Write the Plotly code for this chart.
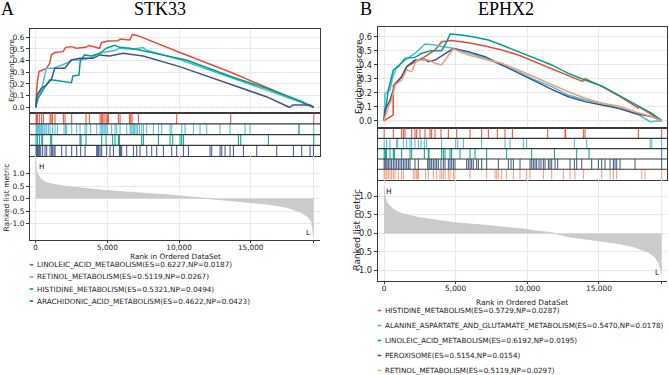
import plotly.graph_objects as go

W, H = 669, 375
FONT = "DejaVu Sans"
SERIF = "Liberation Serif"

# ---------------- data: panel A (STK33) ----------------
A_TITLE = "STK33"
A_NAMES = ["LINOLEIC_ACID_METABOLISM", "RETINOL_METABOLISM",
           "HISTIDINE_METABOLISM", "ARACHIDONIC_ACID_METABOLISM"]
A_ES = [0.6227, 0.5119, 0.5321, 0.4622]
A_NP = [0.0187, 0.0267, 0.0494, 0.0423]
A_COLORS = ["#E64B35", "#4DBBD5", "#00A087", "#3C5488"]

A_red_rank = [0, 100, 230, 465, 745, 975, 1095, 1325, 1905, 2090, 2490, 2840, 3490, 3720,
              4465, 4580, 5045, 5745, 5905, 6560, 6745, 7140, 9839, 13607, 16090, 17950, 19400]
A_red_es = [0, 0.206, 0.306, 0.32, 0.334, 0.377, 0.449, 0.469, 0.477, 0.514, 0.52, 0.506, 0.514, 0.529,
            0.506, 0.554, 0.569, 0.571, 0.586, 0.577, 0.6227, 0.614, 0.48, 0.30, 0.175, 0.075, 0]
A_blue_rank = [0, 95, 395, 745, 1210, 1560, 2140, 2490, 3185, 3770, 4465, 4930, 5510, 5860,
               6790, 7490, 7720, 10044, 13764, 16090, 17950, 18330, 18400, 19400]
A_blue_es = [0, 0.09, 0.149, 0.334, 0.334, 0.349, 0.377, 0.406, 0.406, 0.42, 0.463, 0.477, 0.486, 0.506,
             0.497, 0.5119, 0.49, 0.41, 0.249, 0.149, 0.063, 0.05, 0.06, 0]
A_green_rank = [0, 165, 510, 975, 1210, 2490, 2600, 3020, 3115, 3420, 3880, 4465, 4930, 5510,
                5860, 6560, 7255, 8420, 9580, 10510, 13765, 16090, 17950, 19400]
A_green_es = [0, 0.077, 0.149, 0.234, 0.234, 0.211, 0.269, 0.277, 0.406, 0.449, 0.44, 0.463, 0.506, 0.5321,
              0.514, 0.506, 0.491, 0.463, 0.429, 0.406, 0.257, 0.163, 0.077, 0]
A_navy_rank = [0, 95, 395, 745, 1100, 1325, 2025, 2490, 3070, 4000, 4465, 5160, 6090, 6790, 7490,
               10045, 13765, 16090, 17700, 17950, 19150, 19400]
A_navy_es = [0, 0.106, 0.163, 0.191, 0.24, 0.334, 0.334, 0.406, 0.42, 0.42, 0.449, 0.44, 0.4622, 0.449, 0.44,
             0.349, 0.191, 0.091, 0.0, 0.02, 0.02, 0]

A_red_hits = [23, 70, 116, 256, 419, 535, 1000, 1070, 1163, 1349, 1931, 2047, 2512, 3512, 3745, 4489,
              4582, 4675, 4768, 4908, 5001, 5071, 5768, 5885, 6536, 6629, 6722, 7164, 9839, 13607, 19400]
A_blue_hits = [23, 70, 116, 186, 256, 349, 419, 488, 582, 651, 768, 884, 1000, 1186, 1349, 1512, 1977,
               2070, 2163, 2512, 2861, 3094, 3442, 3559, 3838, 4257, 4489, 4605, 4675, 4768, 4838, 4908,
               5001, 5303, 5536, 5652, 5885, 6350, 6583, 6652, 6722, 6815, 6908, 7001, 7094, 7234, 7397,
               7513, 7746, 8211, 8560, 8792, 9374, 9490, 10188, 10420, 11002, 11467, 11932, 12863, 13561,
               14608, 14957, 18329, 18399, 19400]
A_green_hits = [23, 116, 256, 419, 488, 1047, 1116, 3094, 3163, 3512, 4605, 4908, 5373, 5536, 5768, 5838,
                7397, 7513, 8560, 9374, 9560, 10072, 10188, 10304, 14142, 14305, 16235, 19400]
A_navy_hits = [23, 70, 116, 186, 256, 349, 488, 651, 768, 1000, 1116, 1186, 1279, 1349, 1814, 2117, 2512,
               2861, 3140, 3442, 4257, 4326, 4396, 4489, 4605, 4954, 5187, 5420, 5838, 5885, 5931, 6001,
               6350, 6815, 7048, 7280, 7746, 8094, 8443, 8909, 9490, 9839, 10304, 10653, 12165, 12281,
               12863, 12979, 13212, 13561, 13794, 14491, 15422, 16817, 17980, 18562, 19143, 19376]

A_metric_rank = [0, 60, 185, 395, 745, 1210, 2140, 3300, 4930, 6790, 9120, 11440, 11900, 13765, 16090,
                 17490, 18420, 19000, 19260, 19375, 19400]
A_metric_val = [1.53, 1.09, 0.92, 0.76, 0.64, 0.57, 0.48, 0.41, 0.32, 0.24, 0.15, 0.03, 0.0, -0.095, -0.22,
                -0.35, -0.53, -0.73, -0.93, -1.3, -1.5]

# ---------------- data: panel B (EPHX2) ----------------
B_TITLE = "EPHX2"
B_NAMES = ["HISTIDINE_METABOLISM", "ALANINE_ASPARTATE_AND_GLUTAMATE_METABOLISM",
           "LINOLEIC_ACID_METABOLISM", "PEROXISOME", "RETINOL_METABOLISM"]
B_ES = [0.5729, 0.5470, 0.6192, 0.5154, 0.5119]
B_NP = [0.0287, 0.0178, 0.0195, 0.0154, 0.0297]
B_COLORS = ["#E64B35", "#4DBBD5", "#00A087", "#3C5488", "#F39B7F"]

B_red_rank = [0, 640, 651, 1230, 1580, 2165, 2860, 3560, 4025, 4720, 5885, 7050, 8210, 9375, 10540,
              11700, 12860, 13850, 14030, 15190, 16350, 17740, 17760, 19375]
B_red_es = [0, 0.04, 0.25, 0.314, 0.386, 0.421, 0.457, 0.505, 0.564, 0.5729, 0.557, 0.533, 0.505, 0.469, 0.421,
            0.374, 0.326, 0.28, 0.30, 0.245, 0.18, 0.09, 0.1, 0]
B_blue_rank = [0, 70, 420, 580, 885, 1465, 2165, 2860, 3560, 4025, 4840, 5885, 7050, 8210, 9375, 10540,
               11700, 12860, 14025, 15190, 16350, 17515, 18560, 19375]
B_blue_es = [0, 0.195, 0.219, 0.30, 0.386, 0.433, 0.481, 0.547, 0.54, 0.529, 0.517, 0.481, 0.445, 0.398, 0.35,
             0.29, 0.243, 0.183, 0.148, 0.124, 0.088, 0.057, -0.007, 0]
B_green_rank = [0, 300, 650, 1000, 1465, 2165, 2630, 3325, 4025, 4375, 4605, 5420, 6350, 7280, 8210, 9375,
                10540, 11700, 12860, 14025, 15190, 16350, 17515, 18680, 19375]
B_green_es = [0, 0.219, 0.362, 0.386, 0.445, 0.452, 0.481, 0.5, 0.5, 0.564, 0.6192, 0.612, 0.595, 0.576, 0.54,
              0.493, 0.445, 0.398, 0.338, 0.29, 0.248, 0.183, 0.112, 0.052, 0]
B_navy_rank = [0, 70, 420, 770, 1230, 1580, 2165, 2860, 3095, 3560, 4025, 4840, 5885, 7050, 8210, 9375,
               10540, 11700, 12860, 14025, 15190, 16350, 17515, 18680, 19375]
B_navy_es = [0, 0.076, 0.148, 0.255, 0.314, 0.386, 0.433, 0.438, 0.421, 0.433, 0.462, 0.5154, 0.493, 0.457,
             0.398, 0.338, 0.279, 0.224, 0.171, 0.136, 0.112, 0.088, 0.052, 0.029, 0]
B_salmon_rank = [0, 300, 535, 770, 1230, 1580, 1930, 2280, 3095, 3560, 4025, 4255, 4605, 4840, 5885, 7050,
                 8210, 9375, 10540, 11700, 12860, 14025, 15190, 16350, 17515, 18680, 19375]
B_salmon_es = [0, 0.1, 0.148, 0.255, 0.29, 0.362, 0.35, 0.433, 0.433, 0.41, 0.398, 0.433, 0.481, 0.5119,
               0.469, 0.438, 0.41, 0.362, 0.31, 0.255, 0.207, 0.16, 0.124, 0.105, 0.064, 0.029, 0]

B_red_hits = [10, 651, 1233, 1349, 1465, 1931, 2163, 2279, 2512, 2861, 3210, 3326, 3559, 3977, 4489, 5071,
              6001, 6815, 7280, 7908, 8443, 8955, 11421, 12631, 12677, 13910, 14026, 17747, 19375]
B_blue_hits = [10, 186, 419, 884, 954, 1349, 1582, 1814, 1931, 2163, 2396, 2582, 2814, 2977, 4024, 5001,
               5141, 5536, 6815, 8443, 8792, 9723, 9956, 13282, 14142, 18562, 18678, 19375]
B_green_hits = [10, 70, 116, 186, 419, 651, 721, 1233, 1814, 1931, 2814, 3094, 3140, 4024, 4140, 4257,
                4605, 4722, 5303, 6001, 6350, 7164, 8560, 10304, 11886, 13444, 14305, 19375]
B_navy_hits = [10, 70, 140, 209, 302, 419, 535, 651, 768, 884, 1000, 1116, 1233, 1349, 1465, 1582, 1698,
               1814, 2163, 2396, 3047, 3140, 3210, 3326, 3442, 3559, 3675, 3791, 3977, 4140, 4257, 4489,
               4605, 4722, 4838, 4954, 5768, 5885, 6001, 6117, 6234, 6467, 6583, 6815, 7164, 7978, 8676,
               8862, 9025, 9490, 10188, 10304, 10420, 10537, 10653, 10816, 10956, 11119, 11235, 11467,
               11584, 11700, 11933, 12119, 12979, 13282, 13444, 13793, 14491, 14956, 15189, 15422, 15771,
               16003, 16119, 16235, 16468, 17515, 19375]
B_salmon_hits = [10, 70, 186, 302, 419, 535, 651, 768, 1000, 1233, 1349, 2047, 2163, 2279, 2349, 2396,
                 2908, 3094, 3442, 3675, 3908, 4024, 4140, 4257, 4489, 4605, 4838, 4954, 6001, 7164, 7746,
                 7862, 7978, 8211, 8560, 9025, 9490, 9956, 10188, 11119, 11700, 12514, 12979, 13328, 13910,
                 15189, 15771, 16003, 16235, 17980, 18213, 19375]

B_metric_rank = [0, 70, 185, 420, 770, 1230, 2400, 3560, 5000, 7050, 8210, 10000, 10540, 11700, 12860,
                 15000, 16350, 17515, 18445, 18910, 19190, 19375]
B_metric_val = [1.26, 1.0, 0.85, 0.73, 0.62, 0.54, 0.43, 0.357, 0.286, 0.223, 0.18, 0.107, 0.07, 0.02, -0.09,
                -0.2, -0.27, -0.375, -0.51, -0.64, -0.82, -1.09]

X_TICKS = [0, 5000, 10000, 15000]
X_TICKTEXT = ["0", "5,000", "10,000", "15,000"]
ES_TICKS = [0.0, 0.1, 0.2, 0.3, 0.4, 0.5, 0.6]
METRIC_TICKS = [-1.0, -0.5, 0.0, 0.5, 1.0]


def fx(px):
    return px / W


def fy(py):
    return 1 - py / H


fig = go.Figure()
layout = dict(width=W, height=H, autosize=False, margin=dict(l=0, r=0, t=0, b=0),
              paper_bgcolor="white", plot_bgcolor="white", showlegend=False,
              font=dict(family=FONT, color="#222222", size=7.5))
shapes = []
annotations = []

FRAME = "#3a3a3a"
GRID = "#e9e9e9"


def panel(idx, geo, curves, hits, metric, colors, names, es_vals, np_vals, title, letter, tfont):
    i1, i2, i3 = idx, idx + 1, idx + 2
    k = lambda n, t: (t if n == 1 else f"{t}{n}")
    left, right = geo["left"], geo["right"]
    xr = geo["xrange"]
    dom_x = [fx(left), fx(right)]
    # enrichment score axes
    layout[k(i1, "xaxis")] = dict(domain=dom_x, range=xr, anchor=k(i1, "y"), showticklabels=False,
                                  ticks="", tickvals=X_TICKS, showgrid=True, gridcolor=GRID, zeroline=False,
                                  showline=True, mirror=True, linecolor=FRAME, linewidth=1, automargin=False)
    layout[k(i1, "yaxis")] = dict(domain=[fy(geo["es_bot"]), fy(geo["es_top"])], range=geo["es_range"],
                                  anchor=k(i1, "x"), tickvals=ES_TICKS,
                                  ticktext=[f"{v:.1f}" for v in ES_TICKS], ticks="outside", ticklen=3,
                                  tickcolor=FRAME, showgrid=True, gridcolor=GRID, zeroline=False,
                                  showline=True, mirror=True, linecolor=FRAME, linewidth=1,
                                  tickfont=dict(size=tfont["ytick"]), automargin=False)
    xa = "x" if i1 == 1 else f"x{i1}"
    ya = "y" if i1 == 1 else f"y{i1}"
    shapes.append(dict(type="line", xref=f"{xa} domain", yref=ya, x0=0, x1=1, y0=0, y1=0,
                       line=dict(color="#9a9a9a", width=1, dash="dot"), layer="below"))
    for (rk, es), c in zip(curves, colors):
        fig.add_trace(go.Scatter(x=rk, y=es, mode="lines", line=dict(color=c, width=1.5),
                                 xaxis=xa, yaxis=ya, hoverinfo="skip"))
    # hit strips
    n = len(hits)
    layout[k(i2, "xaxis")] = dict(domain=dom_x, range=xr, anchor=k(i2, "y"), showticklabels=False,
                                  ticks="", showgrid=False, zeroline=False, showline=True, mirror=True,
                                  linecolor=FRAME, linewidth=1.2, automargin=False)
    layout[k(i2, "yaxis")] = dict(domain=[fy(geo["st_bot"]), fy(geo["st_top"])], range=[0, n],
                                  anchor=k(i2, "x"), showticklabels=False, ticks="", showgrid=False,
                                  zeroline=False, showline=True, mirror=True, linecolor=FRAME, linewidth=1.2,
                                  automargin=False)
    xa2 = f"x{i2}"
    ya2 = f"y{i2}"
    for row, (h, c) in enumerate(zip(hits, colors)):
        lo, hi = n - row - 1, n - row
        xs, ys = [], []
        for r in h:
            xs += [r, r, None]
            ys += [lo, hi, None]
        fig.add_trace(go.Scatter(x=xs, y=ys, mode="lines", line=dict(color=c, width=1),
                                 xaxis=xa2, yaxis=ya2, hoverinfo="skip"))
    for b in range(1, n):
        shapes.append(dict(type="line", xref=f"{xa2} domain", yref=ya2, x0=0, x1=1, y0=b, y1=b,
                           line=dict(color=FRAME, width=1.2)))
    # ranked list metric
    mr, mv = metric
    layout[k(i3, "xaxis")] = dict(domain=dom_x, range=xr, anchor=k(i3, "y"),
                                  tickvals=X_TICKS + [mr[-1]], ticktext=X_TICKTEXT + [""],
                                  ticks="outside", ticklen=2, tickcolor=FRAME, showgrid=True, gridcolor=GRID,
                                  zeroline=False, showline=True, linecolor=FRAME, linewidth=1,
                                  ticklabelstandoff=-2,
                                  tickfont=dict(size=tfont["xtick"]), automargin=False)
    layout[k(i3, "yaxis")] = dict(domain=[fy(geo["rk_bot"]), fy(geo["rk_top"])], range=geo["rk_range"],
                                  anchor=k(i3, "x"), tickvals=METRIC_TICKS,
                                  ticktext=[f"{v:.1f}" for v in METRIC_TICKS], ticks="outside", ticklen=3,
                                  tickcolor=FRAME, showgrid=True, gridcolor=GRID, zeroline=False,
                                  showline=True, linecolor=FRAME, linewidth=1,
                                  tickfont=dict(size=tfont["ytick"]), automargin=False)
    fig.add_trace(go.Scatter(x=mr, y=mv, mode="lines", fill="tozeroy", fillcolor="#cbcbcb",
                             line=dict(color="#c6c6c6", width=0.8), xaxis=f"x{i3}", yaxis=f"y{i3}",
                             hoverinfo="skip"))
    # text
    annotations.append(dict(text=title, x=fx(geo["title_x"]), y=fy(geo["title_y"]), xref="paper",
                            yref="paper", showarrow=False, font=dict(family=SERIF, size=18, color="black"),
                            xanchor="center", yanchor="middle"))
    annotations.append(dict(text=letter, x=fx(geo["letter_x"]), y=fy(geo["title_y"]), xref="paper",
                            yref="paper", showarrow=False, font=dict(family=SERIF, size=18, color="black"),
                            xanchor="center", yanchor="middle"))
    annotations.append(dict(text="Enrichment score", x=fx(geo["es_lab"][0]), y=fy(geo["es_lab"][1]),
                            xref="paper", yref="paper", showarrow=False, textangle=-90,
                            font=dict(size=tfont["ylab_es"]), xanchor="center", yanchor="middle"))
    annotations.append(dict(text="Ranked list metric", x=fx(geo["rk_lab"][0]), y=fy(geo["rk_lab"][1]),
                            xref="paper", yref="paper", showarrow=False, textangle=-90,
                            font=dict(size=tfont["ylab_rk"]), xanchor="center", yanchor="middle"))
    annotations.append(dict(text="Rank in Ordered DataSet", x=fx((left + right) / 2), y=fy(geo["xlab_y"]),
                            xref="paper", yref="paper", showarrow=False, font=dict(size=tfont["xtick"]),
                            xanchor="center", yanchor="middle"))
    for lab, (px, py) in (("H", geo["H"]), ("L", geo["L"])):
        annotations.append(dict(text=lab, x=fx(px), y=fy(py), xref="paper", yref="paper", showarrow=False,
                                font=dict(size=tfont["xtick"]), xanchor="center", yanchor="middle"))
    for j, (nm, es, pv, c) in enumerate(zip(names, es_vals, np_vals, colors)):
        py = geo["leg_y0"] + j * geo["leg_dy"]
        shapes.append(dict(type="line", xref="paper", yref="paper", x0=fx(geo["leg_x"] - 6.3),
                           x1=fx(geo["leg_x"] - 2.7), y0=fy(py), y1=fy(py), line=dict(color=c, width=1.6)))
        annotations.append(dict(text=f"{nm}(ES={es:.4f},NP={pv:.4f})", x=fx(geo["leg_x"] - 1), y=fy(py),
                                xref="paper", yref="paper", showarrow=False, font=dict(size=tfont["leg"]),
                                xanchor="left", yanchor="middle"))


geoA = dict(left=30, right=320, xrange=[-398, 19836],
            es_top=29.3, es_bot=113.3, es_range=[-0.0514, 0.6686],
            st_top=113.3, st_bot=156, rk_top=156, rk_bot=240, rk_range=[-1.66, 1.70],
            title_x=159.5, title_y=9, letter_x=7.5,
            es_lab=(12, 70), rk_lab=(5.5, 198), xlab_y=256.3, H=(42, 166), L=(308, 232),
            leg_x=36, leg_y0=264.8, leg_dy=12.1)
geoB = dict(left=377.7, right=667, xrange=[-440, 19745],
            es_top=26.7, es_bot=128.2, es_range=[-0.0536, 0.671],
            st_top=128.2, st_bot=179.5, rk_top=179.5, rk_bot=281, rk_range=[-1.289, 1.46],
            title_x=505.5, title_y=9, letter_x=366,
            es_lab=(358.5, 77.5), rk_lab=(356.5, 230), xlab_y=302.3, H=(389, 191), L=(657, 272),
            leg_x=384, leg_y0=310.5, leg_dy=15)

panel(1, geoA,
      [(A_red_rank, A_red_es), (A_blue_rank, A_blue_es), (A_green_rank, A_green_es), (A_navy_rank, A_navy_es)],
      [A_red_hits, A_blue_hits, A_green_hits, A_navy_hits], (A_metric_rank, A_metric_val),
      A_COLORS, A_NAMES, A_ES, A_NP, A_TITLE, "A",
      dict(ytick=7.5, xtick=7.3, ylab_es=7.2, ylab_rk=7.5, leg=7.25))
panel(4, geoB,
      [(B_red_rank, B_red_es), (B_blue_rank, B_blue_es), (B_green_rank, B_green_es), (B_navy_rank, B_navy_es),
       (B_salmon_rank, B_salmon_es)],
      [B_red_hits, B_blue_hits, B_green_hits, B_navy_hits, B_salmon_hits], (B_metric_rank, B_metric_val),
      B_COLORS, B_NAMES, B_ES, B_NP, B_TITLE, "B",
      dict(ytick=8.2, xtick=7.4, ylab_es=8.5, ylab_rk=9, leg=7.15))

layout["shapes"] = shapes
layout["annotations"] = annotations
fig.update_layout(**layout)
fig.write_html("out.html", config={"displayModeBar": False, "responsive": False},
               post_script="document.body.style.margin='0px';document.body.style.overflow='hidden';")
